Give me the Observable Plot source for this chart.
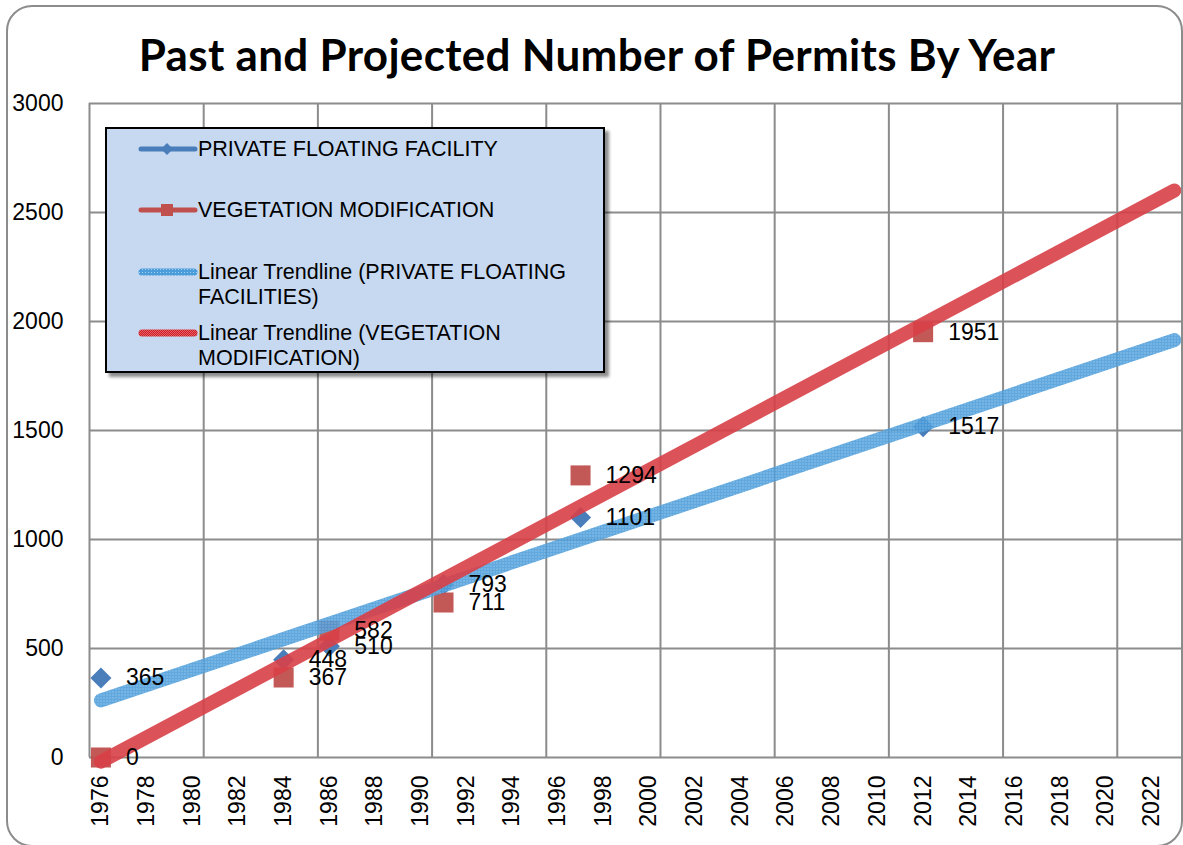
<!DOCTYPE html>
<html>
<head>
<meta charset="utf-8">
<script src="https://cdn.jsdelivr.net/npm/d3@7"></script>
<script src="https://cdn.jsdelivr.net/npm/@observablehq/plot@0.6"></script>
<style>
  html, body { margin: 0; padding: 0; background: #fff; }
  #wrap { position: relative; width: 1183px; height: 845px; overflow: hidden; font-family: "Liberation Sans", Arial, sans-serif; }
  #frame { position: absolute; left: 6px; top: 5px; width: 1173px; height: 838px; border: 2px solid #8c8c8c; border-radius: 26px; pointer-events: none; }
  #title { position: absolute; top: 32px; left: 597px; transform: translateX(-50%); white-space: nowrap;
           font-family: Lato, "Open Sans", sans-serif; font-weight: 700; font-size: 44px; letter-spacing: 0.3px; color: #000; line-height: 1; }
  #chart { position: absolute; left: 0; top: 0; }
  #legend { position: absolute; left: 105px; top: 127px; width: 496px; height: 242px; background: #c6d9f1;
            border: 2px solid #000; box-shadow: 4px 4px 3px rgba(0,0,0,0.45); }
  .item { position: absolute; left: 31px; display: flex; align-items: flex-start; font-size: 21.5px; line-height: 25px; color: #000; }
  .item svg { flex: none; margin-top: 2px; }
</style>
</head>
<body>
<div id="wrap">
  <div id="chart"></div>
  <div id="legend"></div>
  <div id="title"></div>
  <div id="frame"></div>
</div>
<script>
// ---- data ----
const chartTitle = "Past and Projected Number of Permits By Year";
const years = [1976, 1984, 1986, 1991, 1997, 2012];
const privateFloating = [365, 448, 510, 793, 1101, 1517];
const vegetationMod = [0, 367, 582, 711, 1294, 1951];
const trendYears = [1976, 2023];
const trendPrivate = [262, 1915];
const trendVegetation = [-19, 2601];
const yearTicks = [1976, 1978, 1980, 1982, 1984, 1986, 1988, 1990, 1992, 1994, 1996, 1998, 2000,
  2002, 2004, 2006, 2008, 2010, 2012, 2014, 2016, 2018, 2020, 2022];
const valueTicks = [0, 500, 1000, 1500, 2000, 2500, 3000];
const seriesNames = ["PRIVATE FLOATING FACILITY", "VEGETATION MODIFICATION",
  "Linear Trendline (PRIVATE FLOATING FACILITIES)", "Linear Trendline (VEGETATION MODIFICATION)"];

const blue = "#4a7ebb", red = "#c0504d";

const pf = years.map((y, i) => ({year: y, value: privateFloating[i]}));
const vm = years.map((y, i) => ({year: y, value: vegetationMod[i]}));
const tp = trendYears.map((y, i) => ({year: y, value: trendPrivate[i]}));
const tv = trendYears.map((y, i) => ({year: y, value: trendVegetation[i]}));
const gridYears = d3.range(1975.5, 2023, 5);

document.getElementById("title").textContent = chartTitle;

const plot = Plot.plot({
  width: 1183,
  height: 845,
  marginLeft: 89,
  marginRight: 0,
  marginTop: 103,
  marginBottom: 88,
  style: {fontFamily: "'Liberation Sans', Arial, sans-serif", fontSize: "23px", color: "#000", overflow: "visible", background: "transparent"},
  x: {domain: [1975.5, 2023.4], axis: null},
  y: {domain: [0, 3000], axis: null},
  marks: [
    Plot.ruleY(valueTicks, {stroke: "#8c8c8c", strokeWidth: 2}),
    Plot.ruleX(gridYears, {stroke: "#8c8c8c", strokeWidth: 2}),
    Plot.axisY(valueTicks, {tickSize: 0, tickPadding: 26, fontSize: 23, label: null, tickFormat: d => String(d), fill: "#000"}),
    Plot.text(yearTicks, {x: d => d, y: 0, text: d => String(d), rotate: -90, textAnchor: "end", lineAnchor: "middle", dy: 18, fontSize: 23, fill: "#000"}),
    Plot.dot(pf, {x: "year", y: "value", symbol: "diamond2", r: 9.5, fill: blue, stroke: "none"}),
    Plot.dot(vm, {x: "year", y: "value", symbol: "square", r: 11.3, fill: red, fillOpacity: 0.95, stroke: "none"}),
    Plot.line(tp, {x: "year", y: "value", stroke: "url(#texBlue)", strokeWidth: 14, strokeLinecap: "round", strokeOpacity: 0.88}),
    Plot.line(tv, {x: "year", y: "value", stroke: "url(#texRed)", strokeWidth: 14, strokeLinecap: "round", strokeOpacity: 0.9}),
    Plot.text(pf, {x: "year", y: "value", text: d => String(d.value), dx: 25, textAnchor: "start", lineAnchor: "middle", fontSize: 23, fill: "#000"}),
    Plot.text(vm, {x: "year", y: "value", text: d => String(d.value), dx: 25, textAnchor: "start", lineAnchor: "middle", fontSize: 23, fill: "#000"})
  ]
});

// textures for the trendlines (checker pattern like the original)
const svgNS = "http://www.w3.org/2000/svg";
const defs = document.createElementNS(svgNS, "defs");
defs.innerHTML = `
  <pattern id="texRed" patternUnits="userSpaceOnUse" width="2" height="2">
    <rect width="2" height="2" fill="#cf1b24"/>
    <rect x="1" y="0" width="1" height="1" fill="#e2636a"/>
    <rect x="0" y="1" width="1" height="1" fill="#e2636a"/>
  </pattern>
  <pattern id="texBlue" patternUnits="userSpaceOnUse" width="3" height="3">
    <rect width="3" height="3" fill="#4b9cda"/>
    <rect x="1" y="1" width="1" height="1" fill="#a9d2f0"/>
  </pattern>`;
const svgEl = plot.tagName.toLowerCase() === "svg" ? plot : plot.querySelector("svg");
svgEl.insertBefore(defs, svgEl.firstChild);
document.getElementById("chart").appendChild(plot);

// ---- legend ----
const legend = document.getElementById("legend");
const rows = [
  {top: 8,  kind: "blue"},
  {top: 69, kind: "red"},
  {top: 131, kind: "tblue"},
  {top: 192, kind: "tred"}
];
rows.forEach((r, i) => {
  const div = document.createElement("div");
  div.className = "item";
  div.style.top = r.top + "px";
  let sw = "";
  if (r.kind === "blue") sw = `<svg width="60" height="20"><line x1="3" y1="10" x2="57" y2="10" stroke="${blue}" stroke-width="5" stroke-linecap="round"/><path d="M29 4 L35 10 L29 16 L23 10 Z" fill="${blue}"/></svg>`;
  if (r.kind === "red") sw = `<svg width="60" height="20"><line x1="3" y1="10" x2="57" y2="10" stroke="${red}" stroke-width="5" stroke-linecap="round"/><rect x="23" y="4" width="12" height="12" fill="${red}"/></svg>`;
  if (r.kind === "tblue") sw = `<svg width="60" height="20"><line x1="4" y1="10" x2="56" y2="10" stroke="url(#texBlue)" stroke-width="7" stroke-linecap="round"/></svg>`;
  if (r.kind === "tred") sw = `<svg width="60" height="20"><line x1="4" y1="10" x2="56" y2="10" stroke="url(#texRed)" stroke-width="7" stroke-linecap="round"/></svg>`;
  let txt = seriesNames[i];
  if (r.kind === "tblue") txt = "Linear Trendline (PRIVATE FLOATING<br>FACILITIES)";
  if (r.kind === "tred") txt = "Linear Trendline (VEGETATION<br>MODIFICATION)";
  div.innerHTML = sw + `<span>${txt}</span>`;
  legend.appendChild(div);
});
</script>
</body>
</html>
